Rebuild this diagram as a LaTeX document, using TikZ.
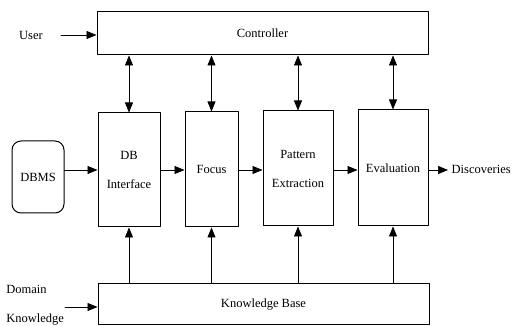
\documentclass[tikz,border=0pt]{standalone}
\usepackage{fontspec}
\setmainfont{Liberation Serif}
\usepackage{tikz}
\usetikzlibrary{arrows.meta}
\tikzset{
  every picture/.style={font=\fontsize{12.5}{15}\selectfont, line join=round, line cap=round},
  box/.style={draw, line width=1pt, inner sep=0pt, align=center},
  tip/.style={-{Triangle[length=10pt,width=8pt]}},
  both/.style={{Triangle[length=10pt,width=8pt]}-{Triangle[length=10pt,width=8pt]}},
}

\begin{document}
\begin{tikzpicture}[x=1pt,y=1pt,line width=0.7pt]
\useasboundingbox (0,0) rectangle (512,326);
% boxes
\node[box,minimum width=331pt,minimum height=43pt] (ctrl) at (262.5,292.5) {Controller};
\node[box,minimum width=62pt,minimum height=114pt] (dbi) at (129,156) {DB\\[14pt]Interface};
\node[box,minimum width=53pt,minimum height=115pt] (focus) at (211.5,156.5) {Focus};
\node[box,minimum width=70pt,minimum height=115pt] (pattern) at (298,157.5) {Pattern\\[14pt]Extraction};
\node[box,minimum width=70pt,minimum height=116pt] (eval) at (393,158) {Evaluation};
\node[box,minimum width=331pt,minimum height=41pt] (kb) at (263.5,21.5) {Knowledge Base};
\node[box,rounded corners=9pt,minimum width=52pt,minimum height=72pt] (dbms) at (38,149) {DBMS};
% outside texts
\node (user) at (31,291) {User};
\node[anchor=west] (disc) at (448,157) {Discoveries};
\node[anchor=west,align=left,inner sep=0pt] (domain) at (6,20.5) {Domain\\[14pt]Knowledge};
\coordinate (userend) at (61,291);
\coordinate (domend) at (65,19);
% inputs and flow
\draw[tip] (userend) -- (ctrl.west |- userend);
\draw[tip] (domend) -- (kb.west |- domend);
\draw[tip] (dbms.east |- dbi.west) -- (dbi.west);
\draw[tip] (dbi.east) -- (focus.west |- dbi.east);
\draw[tip] (focus.east |- dbi.east) -- (pattern.west |- dbi.east);
\draw[tip] (pattern.east |- dbi.east) -- (eval.west |- dbi.east);
\draw[tip] (eval.east |- dbi.east) -- (disc.west |- dbi.east);
% controller links
\foreach \b in {dbi,focus,pattern,eval}{
  \draw[both] (ctrl.south -| \b) -- (\b.north);
  \draw[tip] (kb.north -| \b) -- (\b.south);
}
\end{tikzpicture}
\end{document}
